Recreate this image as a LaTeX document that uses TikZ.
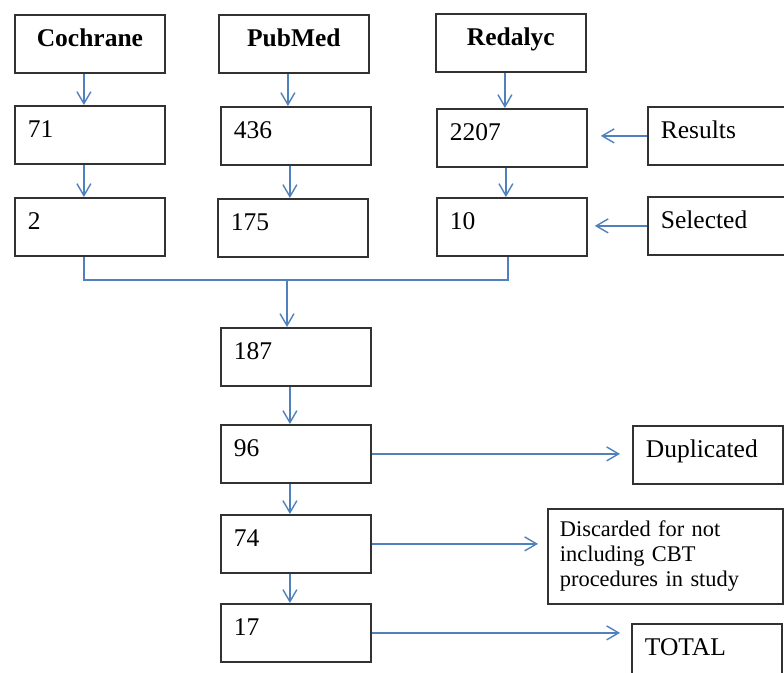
\documentclass[tikz,border=0pt]{standalone}
\usepackage{fontspec}
\setmainfont{Liberation Serif}
\usetikzlibrary{arrows.meta, positioning}
\definecolor{linkblue}{RGB}{79,129,189}
\definecolor{edgegray}{RGB}{50,50,50}

\begin{document}
\begin{tikzpicture}[
  x=0.5pt, y=-0.5pt,
  box/.style={draw=edgegray, line width=0.9pt, anchor=north west, inner xsep=6.5pt, inner ysep=0pt,
    text width=62pt, align=left, text height=16pt, text depth=13pt, font=\fontsize{12.75}{15}\selectfont},
  head/.style={box, align=center, font=\fontsize{12.75}{15}\selectfont\bfseries},
  note/.style={draw=edgegray, line width=0.9pt, anchor=north west, inner xsep=6pt, inner ysep=0pt,
    text width=105.5pt, align=left, minimum height=47.5pt, font=\fontsize{11.2}{12.5}\selectfont},
  link/.style={-{Straight Barb[length=6pt, width=7pt]}, line width=0.7pt, linkblue},
  line/.style={line width=0.7pt, linkblue}
]
\useasboundingbox (0,0) rectangle (784,673);
\clip (0,0) rectangle (784,673);

% Databases
\node[head] (Coch) at (14,14) {Cochrane};
\node[head] (Pub) at (218,14) {PubMed};
\node[head] (Red) at (435,13) {Redalyc};

% Counts
\node[box] (n71) at (14,105) {71};
\node[box] (n436) at (220,106) {436};
\node[box] (n2207) at (436,108) {2207};
\node[box] (Res) at (647,106) {Results};

\node[box] (n2) at (14,197) {2};
\node[box] (n175) at (217,198) {175};
\node[box] (n10) at (436,197) {10};
\node[box] (Sel) at (647,196) {Selected};

\node[box] (n187) at (220,327) {187};
\node[box] (n96) at (220,424) {96};
\node[box] (n74) at (220,514) {74};
\node[box] (n17) at (220,603) {17};

% Side boxes
\node[box] (Dup) at (632,425) {Duplicated};
\node[note] (Disc) at (547,508) {Discarded for not\\including CBT\\procedures in study};
\node[box] (Tot) at (631,623) {TOTAL};

% Down arrows
\foreach \a/\b in {Coch/n71, n71/n2, Pub/n436, n436/n175, Red/n2207, n2207/n10, n187/n96, n96/n74, n74/n17}
  \draw[link] ([xshift=-3pt]\a.south) -- ([xshift=-3pt]\a.south |- \b.north);

% Merge
\coordinate (merge) at (287,280);
\draw[line] ([xshift=-3pt]n2.south) |- (merge) -| ([xshift=-2pt]n10.south);
\draw[link] (merge) -- (merge |- n187.north);

% Side arrows
\draw[link, shorten >=6.5pt] (Res.west) -- (Res.west -| n2207.east);
\draw[link, shorten >=3.5pt] (Sel.west) -- (Sel.west -| n10.east);
\draw[link, shorten >=6pt] (n96.east) -- (n96.east -| Dup.west);
\draw[link, shorten >=4.5pt] (n74.east) -- (n74.east -| Disc.west);
\draw[link, shorten >=5.5pt] (n17.east) -- (n17.east -| Tot.west);

\end{tikzpicture}
\end{document}
